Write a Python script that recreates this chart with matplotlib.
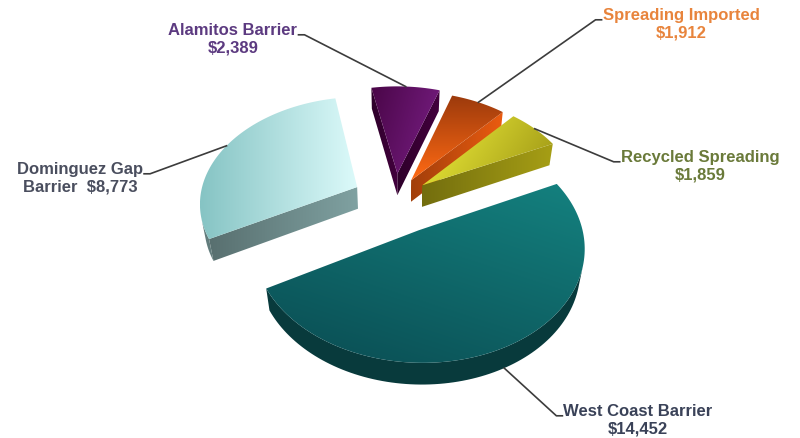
import numpy as np
import matplotlib.pyplot as plt
from matplotlib.patches import Polygon
from matplotlib.colors import to_rgb

# slice data, clockwise from the top of the pie
names = ['Alamitos Barrier', 'Spreading Imported', 'Recycled Spreading',
         'West Coast Barrier', 'Dominguez Gap Barrier']
values = [2389, 1912, 1859, 14452, 8773]
label_fmt = ['Alamitos Barrier\n\\${:,}', 'Spreading Imported\n\\${:,}',
             'Recycled Spreading\n\\${:,}', 'West Coast Barrier\n\\${:,}',
             'Dominguez Gap\nBarrier  \\${:,}']

# styling
top_from = ['#7a1f86', '#9c3a0c', '#f2f23c', '#14817f', '#86c4c4']
top_to = ['#4a0648', '#ff6a14', '#9c9414', '#0a4c52', '#dcfafa']
grad_dir = [200, 90, 20, 120, 0]
side_col = ['#33002f', '#b4460c', '#807a10', '#083a3c', '#627c7c']
text_col = ['#5c3a80', '#e8843c', '#6a7a3a', '#3a4258', '#4a4e5e']
explode = [0.25, 0.21, 0.22, 0.32, 0.27]
label_xy = [(233, 39), (681, 24), (700, 166), (638, 420), (80, 178)]
label_side = ['right', 'left', 'left', 'left', 'right']

# view
start_angle = 101.0
elev = np.radians(42)
cam_dist = 5.5
focal = 866.0
cx, cy = 395, 199
thick = 0.19

cam = np.array([0.0, -cam_dist * np.cos(elev), cam_dist * np.sin(elev)])


def project(x, y, z):
    x, y, z = np.asarray(x), np.asarray(y), np.asarray(z)
    dist = cam_dist + y * np.cos(elev) - z * np.sin(elev)
    px = cx + focal * x / dist
    py = cy - focal * (y * np.sin(elev) + z * np.cos(elev)) / dist
    return np.column_stack([np.atleast_1d(px), np.atleast_1d(py)])


def gradient_fill(ax, xy, c_from, c_to, angle, z):
    poly = Polygon(xy, closed=True, facecolor='none', edgecolor='none')
    ax.add_patch(poly)
    x0, y0 = xy.min(0)
    x1, y1 = xy.max(0)
    gx, gy = np.meshgrid(np.linspace(0, 1, 80), np.linspace(0, 1, 80))
    a = np.radians(angle)
    t = gx * np.cos(a) + gy * np.sin(a)
    t = (t - t.min()) / (t.max() - t.min())
    img = (1 - t)[..., None] * np.array(to_rgb(c_from)) + t[..., None] * np.array(to_rgb(c_to))
    im = ax.imshow(img, extent=(x0, x1, y1, y0), origin='upper', zorder=z,
                   interpolation='bilinear', aspect='auto')
    im.set_clip_path(poly)


def shade(c, k):
    return tuple(np.clip(np.array(to_rgb(c)) * k, 0, 1))


fig = plt.figure(figsize=(8, 4.38), dpi=100)
ax = fig.add_axes([0, 0, 1, 1])
ax.axis('off')

total = sum(values)
spans = [v / total * 360 for v in values]
edges = start_angle - np.concatenate([[0], np.cumsum(spans)])

slices = []
for i in range(len(values)):
    a1, a0 = edges[i], edges[i + 1]
    mid = np.radians((a0 + a1) / 2)
    ox, oy = explode[i] * np.cos(mid), explode[i] * np.sin(mid)
    slices.append((i, a0, a1, mid, ox, oy))

# far slices first
order = sorted(slices, key=lambda s: -(s[5] + 0.5 * np.sin(s[3])))
z = 1
anchors = {}
for i, a0, a1, mid, ox, oy in order:
    t = np.radians(np.linspace(a0, a1, 120))
    rx, ry = ox + np.cos(t), oy + np.sin(t)

    # radial walls
    for ang, sgn in ((a0, 1), (a1, -1)):
        r = np.radians(ang)
        n = np.array([sgn * np.sin(r), -sgn * np.cos(r), 0])
        p = np.array([ox + 0.5 * np.cos(r), oy + 0.5 * np.sin(r), -thick / 2])
        if n @ (cam - p) > 0:
            ex, ey = ox + np.cos(r), oy + np.sin(r)
            wall = project([ox, ex, ex, ox], [oy, ey, ey, oy], [0, 0, -thick, -thick])
            gradient_fill(ax, wall, shade(side_col[i], 0.9), shade(side_col[i], 1.3), 0, z)
    z += 1

    # curved outer wall, one polygon over the part facing the camera
    seen = [k for k in range(len(t))
            if np.array([np.cos(t[k]), np.sin(t[k]), 0])
            @ (cam - np.array([rx[k], ry[k], -thick / 2])) > 0]
    if len(seen) > 1:
        k0, k1 = seen[0], seen[-1] + 1
        upper = project(rx[k0:k1], ry[k0:k1], np.zeros(k1 - k0))
        lower = project(rx[k0:k1], ry[k0:k1], np.full(k1 - k0, -thick))
        ax.add_patch(Polygon(np.vstack([upper, lower[::-1]]), closed=True,
                             facecolor=side_col[i], edgecolor='none', zorder=z))
    z += 1

    # top face
    top = project(np.concatenate([[ox], rx]), np.concatenate([[oy], ry]),
                  np.zeros(len(rx) + 1))
    gradient_fill(ax, top, top_from[i], top_to[i], grad_dir[i], z)
    z += 1

    anchor_z = -thick if i == 3 else 0
    anchors[i] = project(ox + np.cos(mid), oy + np.sin(mid), anchor_z)[0]

ax.set_xlim(0, 800)
ax.set_ylim(438, 0)

# labels with leader lines
renderer = fig.canvas.get_renderer()
for i in range(len(values)):
    lx, ly = label_xy[i]
    txt = ax.text(lx, ly, label_fmt[i].format(values[i]), ha='center', va='center',
                  fontsize=12, fontweight='bold', family=['Liberation Sans', 'DejaVu Sans'],
                  color=text_col[i], linespacing=1.2, zorder=50)
    bb = txt.get_window_extent(renderer=renderer).transformed(ax.transData.inverted())
    tx0, tx1 = min(bb.x0, bb.x1), max(bb.x0, bb.x1)
    ty = min(bb.y0, bb.y1) + 12
    if label_side[i] == 'right':
        p0, p1 = (tx1 + 1, ty), (tx1 + 7, ty)
    else:
        p0, p1 = (tx0 - 1, ty), (tx0 - 7, ty)
    ax.plot([p0[0], p1[0], anchors[i][0]], [p0[1], p1[1], anchors[i][1]],
            color='#3c3c3c', linewidth=1.2, zorder=49)

fig.savefig('out.png', dpi=100, facecolor='white')
